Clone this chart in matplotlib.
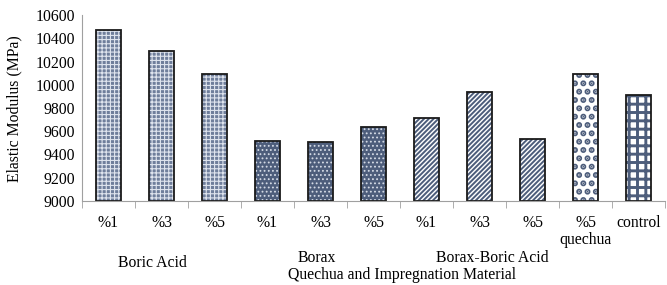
import numpy as np
import matplotlib
matplotlib.use("Agg")
import matplotlib.pyplot as plt
from matplotlib.transforms import blended_transform_factory

# data
labels = ["%1", "%3", "%5", "%1", "%3", "%5", "%1", "%3", "%5", "%5\nquechua", "control"]
values = [10475, 10290, 10095, 9520, 9510, 9635, 9715, 9935, 9535, 10090, 9910]
groups = ["Boric Acid", "Borax", "Borax-Boric Acid"]
xlabel = "Quechua and Impregnation Material"
ylabel = "Elastic Modulus (MPa)"

plt.rcParams["font.family"] = ["Liberation Serif", "DejaVu Serif"]
plt.rcParams["font.size"] = 11.3

dark = "#4d5d7b"
# (face, hatch colour, hatch, hatch lw) per bar
styles = [("#6f7e9b", "#dfe4ee", "++++", 0.8)] * 3 \
    + [(dark, "#d5dbe6", "....", 0.8)] * 3 \
    + [("white", dark, "///////", 1.4)] * 3 \
    + [("white", dark, "..", 3.0)] \
    + [("white", dark, "++", 2.1)]

fig = plt.figure(figsize=(6.67, 2.85), dpi=100)
ax = fig.add_axes([0.123, 0.295, 0.874, 0.652])

x = np.arange(len(values))
for i, v in enumerate(values):
    fc, hc, h, hlw = styles[i]
    with plt.rc_context({"hatch.linewidth": hlw}):
        b = ax.bar(x[i], v - 9000, bottom=9000, width=0.47, color=fc, edgecolor=hc,
                   hatch=h, linewidth=0)
        for p in b:
            if hasattr(p, "set_hatch_linewidth"):
                p.set_hatch_linewidth(hlw)
    ax.bar(x[i], v - 9000, bottom=9000, width=0.47, fill=False,
           edgecolor="#1a1a1a", linewidth=1.3)

ax.set_xlim(-0.5, len(values) - 0.5)
ax.set_ylim(9000, 10600)
ax.set_yticks(np.arange(9000, 10601, 200))
ax.set_xticks(x)
ax.set_xticklabels(labels, linespacing=1.1)
ax.set_xticks(np.arange(-0.5, len(values)), minor=True)
ax.tick_params(axis="x", which="major", length=0, pad=10)
ax.tick_params(axis="x", which="minor", length=5, color="#a0a0a0")
ax.tick_params(axis="y", length=0, pad=5)

for s in ["top", "right"]:
    ax.spines[s].set_visible(False)
ax.spines["left"].set_color("#a0a0a0")
ax.spines["bottom"].set_color("#a0a0a0")

tr = blended_transform_factory(ax.transData, fig.transFigure)
ax.text(0.82, 0.077, groups[0], transform=tr, ha="center", va="center")
ax.text(3.93, 0.095, groups[1], transform=tr, ha="center", va="center")
ax.text(7.25, 0.095, groups[2], transform=tr, ha="center", va="center")
ax.text(5.54, 0.035, xlabel, transform=tr, ha="center", va="center")

fig.text(0.022, 0.62, ylabel, rotation=90, ha="center", va="center")

fig.savefig("out.png", dpi=100)
